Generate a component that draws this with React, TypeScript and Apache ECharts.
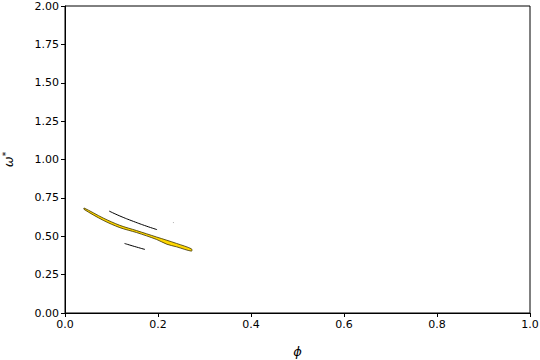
import React, { useEffect, useRef } from "react";
import * as echarts from "echarts";

// Yellow region: upper and lower edges (phi, omega*)
const bandX = [0.041, 0.082, 0.118, 0.154, 0.197, 0.219, 0.24, 0.272];
const bandUpper = [0.684, 0.619, 0.571, 0.537, 0.495, 0.474, 0.453, 0.418];
const bandLower = [0.675, 0.604, 0.556, 0.524, 0.479, 0.448, 0.431, 0.403];

// Black contour line above the band
const line1X = [0.095, 0.118, 0.147, 0.176, 0.198];
const line1Y = [0.664, 0.632, 0.597, 0.565, 0.543];

// Black contour line below the band
const line2X = [0.128, 0.15, 0.172];
const line2Y = [0.453, 0.433, 0.414];

// Tiny isolated contour
const dotX = [0.233, 0.2335];
const dotY = [0.592, 0.586];

const FONT = "DejaVu Sans";

export default function App() {
  const ref = useRef<HTMLDivElement>(null);
  useEffect(() => {
    if (!ref.current) return;
    const chart = echarts.init(ref.current, null, { renderer: "svg" });
    const polyPts: number[][] = [];
    bandX.forEach((x, i) => polyPts.push([x, bandUpper[i]]));
    for (let i = bandX.length - 1; i >= 0; i--) polyPts.push([bandX[i], bandLower[i]]);

    const lineSeries = (xs: number[], ys: number[], color = "#000", w = 1) => ({
      type: "line",
      data: xs.map((x, i) => [x, ys[i]]),
      showSymbol: false,
      smooth: true,
      lineStyle: { color, width: w },
      silent: true,
    });

    chart.setOption({
      animation: false,
      grid: {
        left: 65,
        right: 10,
        top: 6,
        bottom: 47,
        containLabel: false,
        outerBoundsMode: "none",
        show: true,
        borderColor: "#000",
        borderWidth: 1,
        backgroundColor: "#fff",
      },
      xAxis: {
        type: "value",
        min: 0,
        max: 1,
        interval: 0.2,
        name: "ϕ",
        nameLocation: "middle",
        nameGap: 32,
        nameTextStyle: { fontFamily: FONT, fontSize: 13, fontStyle: "italic", color: "#000" },
        axisLine: { show: true, onZero: false, lineStyle: { color: "#000", width: 1 } },
        axisTick: { show: true, inside: false, length: 4, lineStyle: { color: "#000" } },
        axisLabel: {
          fontFamily: FONT,
          fontSize: 11,
          color: "#000",
          margin: 6,
          formatter: (v: number) => v.toFixed(1),
        },
        splitLine: { show: false },
      },
      yAxis: {
        type: "value",
        min: 0,
        max: 2,
        interval: 0.25,
        name: "{a|ω}{b|*}",
        nameLocation: "middle",
        nameGap: 49,
        nameRotate: 90,
        nameTextStyle: {
          fontFamily: FONT,
          color: "#000",
          rich: {
            a: { fontFamily: FONT, fontSize: 13, fontStyle: "italic", color: "#000" },
            b: { fontFamily: FONT, fontSize: 9, color: "#000", verticalAlign: "top", padding: [0, 0, 6, 0] },
          },
        },
        axisLine: { show: true, lineStyle: { color: "#000", width: 1 } },
        axisTick: { show: true, inside: false, length: 4, lineStyle: { color: "#000" } },
        axisLabel: {
          fontFamily: FONT,
          fontSize: 11,
          color: "#000",
          margin: 6,
          formatter: (v: number) => v.toFixed(2),
        },
        splitLine: { show: false },
      },
      series: [
        {
          type: "custom",
          data: [[0, 0]],
          silent: true,
          renderItem: (_params: any, api: any) => ({
            type: "polygon",
            shape: { points: polyPts.map((p) => api.coord(p)), smooth: 0.3 },
            style: { fill: "#ffd700", stroke: "#3a3000", lineWidth: 0.8 },
          }),
        },
        lineSeries(line1X, line1Y),
        lineSeries(line2X, line2Y),
        lineSeries(dotX, dotY, "#999", 1),
      ],
    });
    return () => chart.dispose();
  }, []);
  return (
    <div
      ref={ref}
      style={{ position: "fixed", left: 0, top: 0, width: 540, height: 360, background: "#fff" }}
    />
  );
}
